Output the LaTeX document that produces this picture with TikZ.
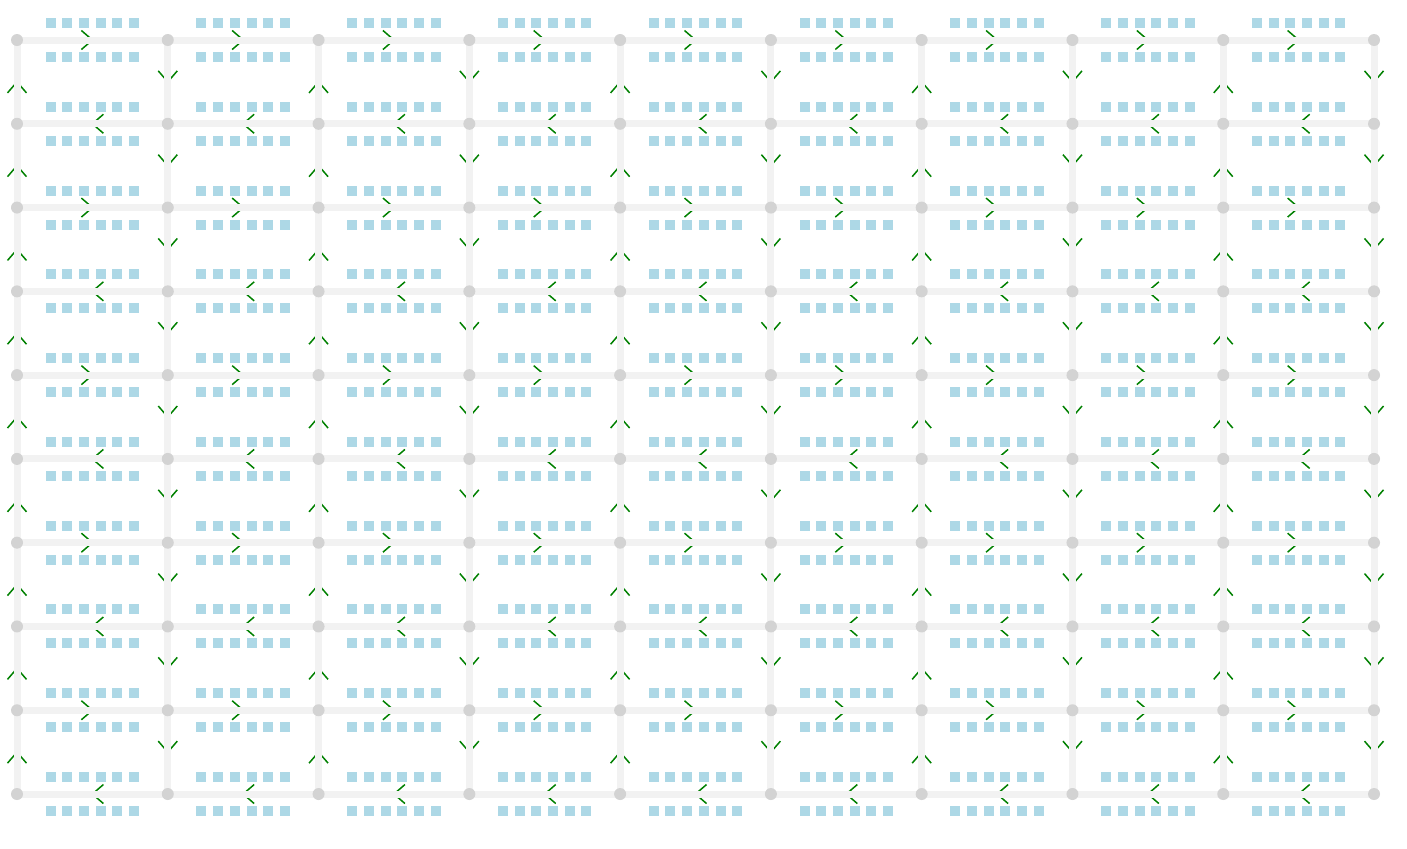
\documentclass[tikz,border=0pt]{standalone}
\usepackage{tikz}
\usetikzlibrary{decorations.markings}
\definecolor{roadgray}{RGB}{242, 242, 242}
\definecolor{dotgray}{RGB}{211, 211, 211}
\definecolor{slotblue}{RGB}{173, 216, 230}
\definecolor{flowgreen}{RGB}{0, 128, 0}
\begin{document}
\begin{tikzpicture}[
  x=0.5pt, y=-0.5pt,
  junction/.style={circle, fill=dotgray, inner sep=0pt, minimum size=6pt},
  flow/.style={decorate, decoration={markings,
                 mark=at position 0.5 with {\draw[flowgreen, line width=0.75pt]
                   (-5.5pt,4.75pt) -- (0pt,0pt) -- (-5.5pt,-4.75pt);}}},
  road/.style={draw=roadgray, line width=3.5pt},
  slot/.style={fill=slotblue}
]
  \useasboundingbox (0,0) rectangle (1407,848);

  % grid points
  \foreach \i in {0,...,9} {
    \foreach \j in {0,...,9} {
      \coordinate (p-\i-\j) at ({17+150.78*\j},{40+83.78*\i});
    }
  }

  % rows: even eastbound, odd westbound
  \foreach \i in {0,2,...,8} {
    \foreach \j [evaluate=\j as \jj using int(\j+1)] in {0,...,8} {
      \path[flow] (p-\i-\j) -- (p-\i-\jj);
      \draw[road] (p-\i-\j) -- (p-\i-\jj);
    }
  }
  \foreach \i in {1,3,...,9} {
    \foreach \j [evaluate=\j as \jj using int(\j+1)] in {0,...,8} {
      \path[flow] (p-\i-\jj) -- (p-\i-\j);
      \draw[road] (p-\i-\jj) -- (p-\i-\j);
    }
  }
  % columns: even northbound, odd southbound
  \foreach \j in {0,2,...,8} {
    \foreach \i [evaluate=\i as \ii using int(\i+1)] in {0,...,8} {
      \path[flow] (p-\ii-\j) -- (p-\i-\j);
      \draw[road] (p-\ii-\j) -- (p-\i-\j);
    }
  }
  \foreach \j in {1,3,...,9} {
    \foreach \i [evaluate=\i as \ii using int(\i+1)] in {0,...,8} {
      \path[flow] (p-\i-\j) -- (p-\ii-\j);
      \draw[road] (p-\i-\j) -- (p-\ii-\j);
    }
  }

  % junctions
  \foreach \i in {0,...,9} {
    \foreach \j in {0,...,9} {
      \node[junction] (n-\i-\j) at (p-\i-\j) {};
    }
  }

  % slots on both sides of each row segment
  \foreach \i in {0,...,9} {
    \foreach \j in {0,...,8} {
      \foreach \k in {0,...,5} {
        \fill[slot] ({17+150.78*(\j+0.5)+16.7*(\k-2.5)-5},{40+83.78*\i-22}) rectangle ++(10,10);
        \fill[slot] ({17+150.78*(\j+0.5)+16.7*(\k-2.5)-5},{40+83.78*\i+12}) rectangle ++(10,10);
      }
    }
  }
\end{tikzpicture}
\end{document}
